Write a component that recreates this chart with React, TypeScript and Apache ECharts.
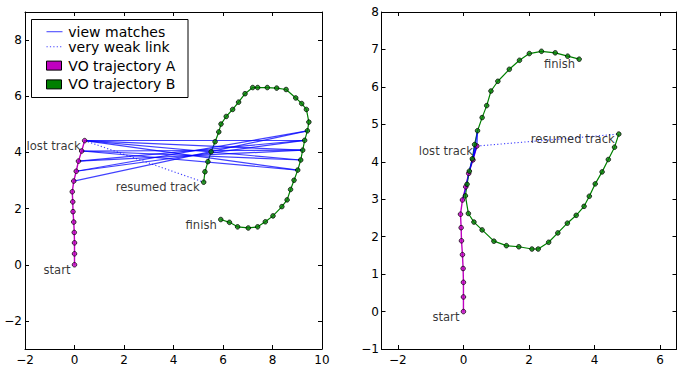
import React, { useEffect, useRef } from "react";
import * as echarts from "echarts";

// ---------------- data ----------------
const trajA: number[][] = [
  [0, 0], [0, 0.39], [0, 0.78], [-0.01, 1.15], [-0.03, 1.52], [-0.06, 1.89],
  [-0.07, 2.24], [-0.09, 2.6], [-0.03, 2.98], [0.07, 3.33], [0.16, 3.69],
  [0.29, 4.05], [0.41, 4.42],
];

// VO trajectory B, before alignment (left panel)
const trajBBefore: number[][] = [
  [5.22, 2.94], [5.27, 3.31], [5.39, 3.67], [5.52, 4.02], [5.68, 4.38], [5.83, 4.73],
  [5.92, 5.01], [6.13, 5.28], [6.39, 5.53], [6.63, 5.79], [6.89, 6.09], [7.2, 6.31],
  [7.4, 6.31], [7.79, 6.31], [8.17, 6.29], [8.55, 6.24], [8.94, 5.94], [9.18, 5.74],
  [9.37, 5.53], [9.47, 5.08], [9.41, 4.77], [9.3, 4.43], [9.22, 4.08], [9.14, 3.73],
  [9.02, 3.37], [8.87, 3.01], [8.73, 2.68], [8.59, 2.31], [8.38, 2.07], [8.02, 1.74],
  [7.71, 1.53], [7.4, 1.35], [7.02, 1.31], [6.59, 1.35], [6.26, 1.51], [5.91, 1.61],
];

// VO trajectory B, after alignment (right panel)
const trajBAfter: number[][] = [
  [4.74, 4.74], [4.61, 4.39], [4.42, 4.06], [4.23, 3.73], [4.02, 3.41], [3.84, 3.08],
  [3.68, 2.81], [3.44, 2.57], [3.17, 2.36], [2.88, 2.1], [2.6, 1.85], [2.28, 1.67],
  [2.09, 1.67], [1.69, 1.73], [1.31, 1.76], [0.93, 1.88], [0.57, 2.18], [0.32, 2.39],
  [0.15, 2.62], [0.06, 3.09], [0.11, 3.4], [0.18, 3.75], [0.27, 4.08], [0.34, 4.46],
  [0.43, 4.83], [0.57, 5.18], [0.71, 5.5], [0.84, 5.89], [1.05, 6.15], [1.4, 6.47],
  [1.71, 6.71], [2.01, 6.89], [2.38, 6.95], [2.8, 6.91], [3.18, 6.82], [3.53, 6.74],
];

// view matches: [index in A, index in B]
const matchPairs: number[][] = [
  [8, 20], [9, 20], [9, 21], [10, 21], [10, 22], [11, 22],
  [12, 22], [11, 23], [12, 23], [11, 24], [12, 24], [12, 21],
];

const leftXTicks = [-2, 0, 2, 4, 6, 8, 10];
const leftYTicks = [-2, 0, 2, 4, 6, 8];
const rightXTicks = [-2, 0, 2, 4, 6];
const rightYTicks = [-1, 0, 1, 2, 3, 4, 5, 6, 7, 8];

const legendLabels = ["view matches", "very weak link", "VO trajectory A", "VO trajectory B"];

// ---------------- styles ----------------
const FONT = '"DejaVu Sans", "Bitstream Vera Sans", sans-serif';
const MAGENTA = "#BF00BF";
const GREEN = "#008000";
const BLUE = "#0000FF";

const fmt = (v: number) => String(v).replace("-", "\u2212");

function xAxes(gridIndex: number, min: number, max: number, ticks: number[]) {
  const base = {
    gridIndex,
    type: "value",
    min,
    max,
    splitLine: { show: false },
    axisLine: { show: true, onZero: false, lineStyle: { color: "#000", width: 1 } },
    axisTick: { show: true, inside: true, length: 4, customValues: ticks, lineStyle: { color: "#000" } },
  };
  return [
    {
      ...base,
      position: "bottom",
      axisLabel: { customValues: ticks, fontSize: 12, color: "#000", fontFamily: FONT, margin: 5, formatter: fmt },
    },
    { ...base, position: "top", axisLabel: { show: false } },
  ];
}

function yAxes(gridIndex: number, min: number, max: number, ticks: number[], margin: number) {
  const base = {
    gridIndex,
    type: "value",
    min,
    max,
    splitLine: { show: false },
    axisLine: { show: true, onZero: false, lineStyle: { color: "#000", width: 1 } },
    axisTick: { show: true, inside: true, length: 4, customValues: ticks, lineStyle: { color: "#000" } },
  };
  return [
    {
      ...base,
      position: "left",
      axisLabel: { customValues: ticks, fontSize: 12, color: "#000", fontFamily: FONT, margin, formatter: fmt },
    },
    { ...base, position: "right", axisLabel: { show: false } },
  ];
}

function panelSeries(trajB: number[][], axisIndex: number) {
  const ax = { xAxisIndex: axisIndex, yAxisIndex: axisIndex, silent: true };
  const lastA = trajA[trajA.length - 1];
  return [
    {
      ...ax,
      type: "line",
      data: trajA,
      symbol: "none",
      lineStyle: { color: MAGENTA, width: 1.4 },
      z: 2,
    },
    {
      ...ax,
      type: "line",
      data: trajB,
      symbol: "none",
      lineStyle: { color: GREEN, width: 1.2 },
      z: 2,
    },
    {
      ...ax,
      type: "lines",
      coordinateSystem: "cartesian2d",
      polyline: false,
      lineStyle: { color: BLUE, opacity: 0.75, width: 1.2 },
      data: matchPairs.map(([a, b]) => ({ coords: [trajA[a], trajB[b]] })),
      z: 3,
    },
    {
      ...ax,
      type: "line",
      data: [lastA, trajB[0]],
      symbol: "none",
      lineStyle: { color: BLUE, opacity: 0.75, width: 1.1, type: [1.2, 2.2] },
      z: 3,
    },
    {
      ...ax,
      type: "scatter",
      data: trajA,
      symbolSize: 4.6,
      itemStyle: { color: MAGENTA, borderColor: "#000", borderWidth: 0.9 },
      z: 4,
    },
    {
      ...ax,
      type: "scatter",
      data: trajB,
      symbolSize: 4.6,
      itemStyle: { color: GREEN, borderColor: "#000", borderWidth: 0.9 },
      z: 4,
    },
    {
      ...ax,
      type: "scatter",
      symbolSize: 0,
      data: [
        { name: "start", value: trajA[0] },
        { name: "lost track", value: lastA },
        { name: "resumed track", value: trajB[0] },
        { name: "finish", value: trajB[trajB.length - 1] },
      ],
      label: {
        show: true,
        formatter: "{b}",
        position: "left",
        distance: 4,
        offset: [0, 5],
        fontSize: 11.6,
        fontFamily: FONT,
        color: "#000",
      },
      z: 5,
    },
  ];
}

function legendGraphic() {
  const rowsY = [31.7, 46.8, 65.6, 84.4];
  const els: any[] = [
    {
      type: "rect",
      shape: { x: 31.5, y: 19.5, width: 156.5, height: 78 },
      style: { fill: "#fff", stroke: "#000", lineWidth: 1 },
      z: 100,
    },
    {
      type: "line",
      shape: { x1: 46.5, y1: rowsY[0], x2: 62.5, y2: rowsY[0] },
      style: { stroke: BLUE, opacity: 0.7, lineWidth: 1.1 },
      z: 101,
    },
    {
      type: "line",
      shape: { x1: 46.5, y1: rowsY[1], x2: 62.5, y2: rowsY[1] },
      style: { stroke: BLUE, opacity: 0.75, lineWidth: 1.1, lineDash: [1.2, 2.2] },
      z: 101,
    },
    {
      type: "rect",
      shape: { x: 46.5, y: rowsY[2] - 4.5, width: 15, height: 9 },
      style: { fill: MAGENTA, stroke: "#000", lineWidth: 1 },
      z: 101,
    },
    {
      type: "rect",
      shape: { x: 46.5, y: rowsY[3] - 4.5, width: 15, height: 9 },
      style: { fill: GREEN, stroke: "#000", lineWidth: 1 },
      z: 101,
    },
  ];
  legendLabels.forEach((t, i) => {
    els.push({
      type: "text",
      x: 68.3,
      y: rowsY[i],
      style: {
        text: t,
        fontSize: 14,
        fontFamily: FONT,
        fill: "#000",
        verticalAlign: "middle",
        align: "left",
      },
      z: 102,
    });
  });
  return els;
}

export default function App() {
  const ref = useRef<HTMLDivElement>(null);
  useEffect(() => {
    if (!ref.current) return;
    const chart = echarts.init(ref.current, undefined, { renderer: "svg" });
    chart.setOption({
      animation: false,
      backgroundColor: "#fff",
      grid: [
        { left: 25, top: 12, width: 297, height: 337 },
        { left: 381.5, top: 12, width: 295, height: 337 },
      ],
      xAxis: [...xAxes(0, -2, 10, leftXTicks), ...xAxes(1, -2.5, 6.5, rightXTicks)],
      yAxis: [...yAxes(0, -3, 9, leftYTicks, 3), ...yAxes(1, -1, 8, rightYTicks, 2.5)],
      series: [...panelSeries(trajBBefore, 0), ...panelSeries(trajBAfter, 2)],
      graphic: legendGraphic(),
    });
    return () => chart.dispose();
  }, []);
  return (
    <div
      ref={ref}
      style={{ position: "absolute", left: 0, top: 0, width: 677, height: 367 }}
    />
  );
}
